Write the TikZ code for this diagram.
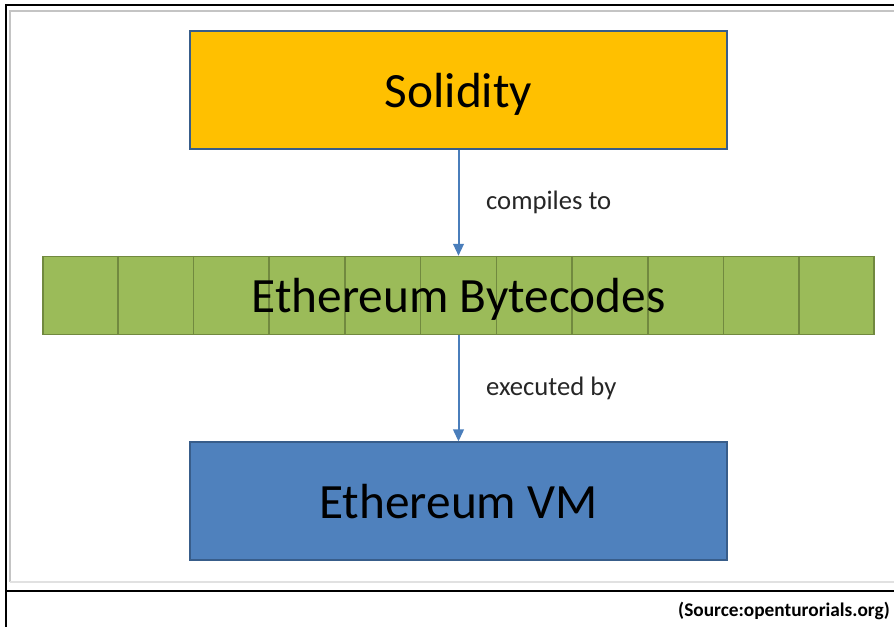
\documentclass[tikz,border=0pt]{standalone}
\usepackage{fontspec}
\setmainfont{Carlito}
\usetikzlibrary{arrows.meta,positioning,calc}
\definecolor{gold}{HTML}{FFC000}
\definecolor{edge}{HTML}{385D8A}
\definecolor{leaf}{HTML}{9BBB59}
\definecolor{moss}{HTML}{71893F}
\definecolor{sky}{HTML}{4F81BD}
\definecolor{wire}{HTML}{4A7EBB}
\definecolor{rim}{HTML}{C4C4C4}
\tikzset{
  layer/.style={rectangle, draw=edge, line width=1.2pt, minimum width=402.75pt,
                minimum height=88.5pt, inner sep=0pt, text depth=0pt, font=\fontsize{37}{44}\selectfont},
  srcbox/.style={layer, fill=gold},
  vmbox/.style={layer, fill=sky},
  bytebox/.style={layer, draw=moss, fill=leaf, minimum width=623.25pt, minimum height=58.5pt},
  bigtxt/.style={inner sep=0pt, text depth=0pt, font=\fontsize{37}{44}\selectfont},
  cell/.style={draw=moss, line width=1.2pt},
  lbl/.style={font=\fontsize{20}{24}\selectfont, text=black!85, inner sep=0pt},
  note/.style={font=\fontsize{14.5}{17}\selectfont\bfseries, inner sep=0pt},
  flow/.style={-{Triangle[length=9pt,width=8pt]}, draw=wire, line width=1.5pt},
  frame/.style={draw=black, line width=2.2pt},
  rimline/.style={draw=rim, line width=1.5pt}
}
\begin{document}
\begin{tikzpicture}[x=0.75pt, y=-0.75pt, node distance=80pt]
 \useasboundingbox (0,0) rectangle (894,627);
 % frame
 \draw[frame] (6,627) -- (6,5) -- (894,5);
 \draw[frame, line width=1.2pt] (6,591) -- (894,591);
 \draw[rimline] (10,582) -- (10,11) -- (894,11);
 \draw[rimline, draw=rim!50] (10,582) -- (894,582);
 % layers
 \node[srcbox] (sol) at (458.5,90) {Solidity};
 \node[bytebox, below=79.5pt of sol] (bc) {};
 \foreach \k in {1,...,10}
   \draw[cell] ($(bc.north west)!\k/11!(bc.north east)$) -- ($(bc.south west)!\k/11!(bc.south east)$);
 \node[bigtxt] (bctxt) at (bc) {Ethereum Bytecodes};
 \node[vmbox, below=79.5pt of bc] (vm) {Ethereum VM};
 \draw[flow] (sol.south) -- node[lbl, right=20pt] {compiles to} (sol.south |- bc.north);
 \draw[flow] (sol.south |- bc.south) -- node[lbl, right=20pt] {executed by} (sol.south |- vm.north);
 \node[note, anchor=south east] (src) at (890,620) {(Source:openturorials.org)};
\end{tikzpicture}
\end{document}
